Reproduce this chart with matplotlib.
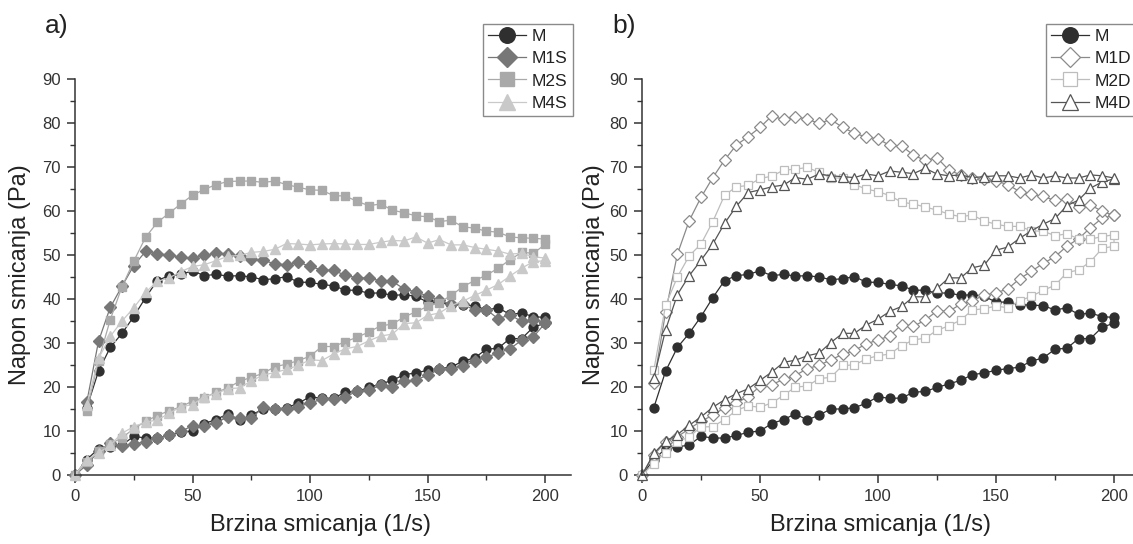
import matplotlib
matplotlib.use("Agg")
import matplotlib.pyplot as plt
from matplotlib.ticker import MultipleLocator

plt.rcParams['font.family'] = ['Liberation Sans', 'DejaVu Sans']

# Shear rate grid: ramp up 0..200, ramp down 200..5 (stored ascending)
rate_up = list(range(0, 201, 5))
rate_down = list(range(5, 201, 5))

# ---- Sample M (shown in both panels) ----
M_up = [0, 3.5, 6.0, 6.4, 6.8, 8.8, 8.4, 8.4, 9.0, 9.7, 10.0, 11.7, 12.6, 13.9, 12.5, 13.6,
        15.0, 15.0, 15.3, 16.3, 17.8, 17.4, 17.5, 18.8, 19.0, 19.9, 20.7, 21.5, 22.8, 23.2,
        23.8, 24.2, 24.5, 25.9, 26.6, 28.6, 28.8, 31.0, 31.0, 33.6, 34.5]
M_down = [15.3, 23.6, 29.0, 32.2, 36.0, 40.3, 44.2, 45.3, 45.6, 46.4, 45.3, 45.6, 45.2, 45.3,
          45.0, 44.4, 44.6, 45.1, 43.8, 43.8, 43.3, 43.0, 42.0, 42.0, 41.3, 41.4, 40.8, 41.0,
          40.6, 39.3, 39.3, 38.7, 38.6, 38.5, 37.5, 38.0, 36.5, 36.8, 36.0, 35.8]

# ---- Panel a ----
M1S_up = [0, 2.3, 5.4, 7.3, 6.5, 7.0, 7.6, 8.3, 9.1, 9.9, 11.2, 11.1, 11.9, 13.2, 12.9, 12.9,
          15.4, 15.0, 15.1, 15.5, 16.4, 17.2, 17.2, 17.8, 19.0, 19.3, 20.4, 20.0, 21.3, 21.6,
          22.7, 24.0, 24.0, 24.7, 25.8, 26.8, 27.7, 28.7, 30.6, 31.4, 34.5]
M1S_down = [16.5, 30.4, 38.1, 42.9, 47.6, 50.8, 50.3, 50.0, 49.5, 49.3, 49.9, 50.4, 50.3, 49.7,
            49.1, 48.8, 48.0, 47.8, 48.4, 47.4, 46.6, 46.5, 45.4, 44.8, 44.8, 44.1, 44.0, 42.3,
            41.6, 40.7, 39.7, 38.8, 38.9, 37.4, 37.6, 35.5, 36.4, 34.9, 35.2, 34.8]
M2S_up = [0, 3.0, 5.5, 7.0, 8.5, 10.5, 12.2, 13.5, 14.6, 15.5, 16.8, 17.6, 18.8, 19.8, 21.3, 22.2,
          23.1, 24.6, 25.2, 26.0, 27.0, 29.2, 29.2, 30.3, 31.3, 32.5, 33.9, 34.3, 35.9, 37.1,
          38.3, 39.2, 40.8, 42.8, 44.2, 45.4, 47.0, 48.9, 50.6, 50.4, 52.4]
M2S_down = [14.5, 26.0, 35.3, 42.8, 48.6, 54.0, 57.4, 59.5, 61.6, 63.6, 64.9, 66.0, 66.7, 66.8,
            66.8, 66.5, 66.8, 66.0, 65.4, 64.8, 64.7, 63.5, 63.4, 62.2, 61.2, 61.6, 60.2, 59.6,
            58.9, 58.7, 57.6, 57.9, 56.4, 56.1, 55.4, 55.2, 54.1, 53.9, 53.8, 53.6]
M4S_up = [0, 3.5, 5.0, 6.8, 9.5, 11.0, 12.0, 12.5, 14.0, 15.5, 16.0, 17.8, 18.5, 19.6, 19.8, 21.4,
          22.7, 23.3, 24.0, 24.9, 26.2, 26.0, 27.5, 28.7, 29.2, 30.5, 31.6, 32.0, 34.4, 34.6,
          36.3, 36.8, 38.5, 39.5, 40.8, 42.0, 43.3, 45.2, 47.0, 48.5, 48.7]
M4S_down = [16.0, 26.5, 31.5, 35.0, 38.0, 41.5, 44.0, 44.8, 46.2, 47.4, 47.8, 48.7, 49.7, 49.9,
            50.6, 50.8, 51.3, 52.6, 52.5, 52.3, 52.5, 52.6, 52.5, 52.4, 52.4, 52.9, 53.3, 53.2,
            54.1, 52.7, 53.5, 52.3, 52.3, 51.7, 51.3, 50.9, 50.2, 50.4, 49.6, 49.3]

# ---- Panel b ----
M1D_up = [0, 4.5, 7.6, 8.7, 10.5, 12.2, 13.6, 15.3, 16.4, 17.8, 20.2, 20.5, 21.8, 22.6, 24.2, 24.9,
          26.2, 27.4, 28.3, 29.8, 30.7, 31.6, 34.2, 33.8, 35.2, 37.3, 37.2, 38.8, 39.6, 40.9,
          41.4, 42.3, 44.6, 46.3, 48.1, 49.6, 52.0, 53.7, 56.2, 58.4, 59.0]
M1D_down = [21.0, 37.0, 50.2, 57.8, 63.1, 67.6, 71.6, 75.0, 76.9, 79.0, 81.6, 80.8, 81.4, 80.9,
            79.9, 80.8, 79.0, 77.7, 76.8, 76.4, 74.9, 74.8, 72.7, 71.5, 72.1, 69.3, 68.2, 67.5,
            67.2, 66.8, 66.0, 64.4, 63.8, 63.3, 62.4, 62.7, 61.0, 61.4, 59.9, 59.0]
M2D_up = [0, 2.6, 5.1, 7.5, 8.7, 10.9, 11.0, 12.6, 14.7, 15.7, 15.4, 16.4, 18.1, 20.0, 20.2, 21.9,
          22.2, 24.9, 25.0, 26.4, 27.1, 27.5, 29.4, 30.7, 31.1, 32.9, 33.9, 35.2, 37.5, 37.8,
          38.4, 38.0, 39.6, 40.6, 42.0, 43.1, 46.0, 46.6, 48.5, 51.5, 52.0]
M2D_down = [23.8, 38.6, 45.0, 49.8, 52.5, 57.6, 63.6, 65.5, 65.8, 67.4, 67.9, 69.3, 69.5, 69.9,
            68.8, 67.5, 67.5, 66.0, 65.0, 64.4, 63.5, 62.0, 61.6, 60.9, 60.2, 59.3, 58.7, 59.1,
            57.7, 57.0, 56.5, 56.5, 55.5, 55.4, 54.4, 54.8, 53.7, 53.6, 54.2, 54.6]
M4D_up = [0, 4.9, 7.7, 9.2, 11.3, 13.2, 15.4, 17.1, 18.5, 19.6, 21.5, 23.4, 25.6, 26.1, 27.1, 27.7,
          30.1, 32.2, 32.2, 34.1, 35.4, 37.2, 38.3, 40.5, 40.5, 42.4, 44.8, 44.8, 47.1, 47.7,
          51.1, 51.8, 53.8, 55.5, 57.0, 58.3, 61.2, 62.5, 65.2, 66.6, 67.3]
M4D_down = [22.0, 33.0, 41.0, 45.3, 48.8, 52.5, 57.2, 61.1, 64.2, 64.8, 65.5, 65.9, 67.6, 67.2,
            68.4, 68.0, 67.8, 67.6, 68.4, 68.0, 69.1, 68.8, 68.5, 69.7, 68.4, 68.0, 68.2, 67.6,
            67.8, 68.0, 68.0, 67.5, 68.2, 67.5, 68.0, 67.5, 67.5, 68.2, 68.0, 67.5]

labels_a = ["M", "M1S", "M2S", "M4S"]
labels_b = ["M", "M1D", "M2D", "M4D"]
x_tick_vals = [0, 50, 100, 150, 200]
y_tick_vals = [0, 10, 20, 30, 40, 50, 60, 70, 80, 90]
xlabel = "Brzina smicanja (1/s)"
ylabel = "Napon smicanja (Pa)"


def loop(up, down):
    xs = rate_up + rate_down[::-1]
    ys = up + down[::-1]
    assert len(xs) == len(ys)
    return xs, ys


W, H = 1133, 544
fig = plt.figure(figsize=(W / 100, H / 100), dpi=100)
axA = fig.add_axes([75 / W, 1 - 475 / H, 496 / W, 396 / H])
axB = fig.add_axes([642 / W, 1 - 475 / H, 498 / W, 396 / H])

DARK = '#2f2f2f'
series_a = [
    (M_up, M_down, dict(marker='o', ms=6.4, color=DARK, mfc=DARK, mec=DARK)),
    (M1S_up, M1S_down, dict(marker='D', ms=5.8, color='#777777', mfc='#777777', mec='#777777')),
    (M2S_up, M2S_down, dict(marker='s', ms=5.8, color='#a9a9a9', mfc='#a9a9a9', mec='#a9a9a9')),
    (M4S_up, M4S_down, dict(marker='^', ms=6.6, color='#c9c9c9', mfc='#c9c9c9', mec='#c9c9c9')),
]
series_b = [
    (M_up, M_down, dict(marker='o', ms=6.4, color=DARK, mfc=DARK, mec=DARK)),
    (M1D_up, M1D_down, dict(marker='D', ms=6.0, color='#8a8a8a', mfc='white', mec='#8a8a8a', mew=0.9)),
    (M2D_up, M2D_down, dict(marker='s', ms=5.6, color='#bdbdbd', mfc='white', mec='#bdbdbd', mew=0.9)),
    (M4D_up, M4D_down, dict(marker='^', ms=6.6, color='#555555', mfc='white', mec='#555555', mew=0.9)),
]

for ax, series, labels, tag, tagx, leg_left, ylab_x, xlab_x in [
        (axA, series_a, labels_a, 'a)', 45, 483, -0.088, 0.495),
        (axB, series_b, labels_b, 'b)', 612, 1046, -0.074, 0.478)]:
    for (up, down, style), lab in zip(series, labels):
        xs, ys = loop(up, down)
        ax.plot(xs, ys, lw=0.9, label=lab, clip_on=False, **style)
    ax.set_xlim(0, 211)
    ax.set_ylim(0, 90)
    ax.set_xticks(x_tick_vals)
    ax.set_yticks(y_tick_vals)
    ax.xaxis.set_minor_locator(MultipleLocator(25))
    ax.yaxis.set_minor_locator(MultipleLocator(5))
    for s in ['top', 'right']:
        ax.spines[s].set_visible(False)
    for s in ['left', 'bottom']:
        ax.spines[s].set_color('#333333')
        ax.spines[s].set_linewidth(1.1)
    ax.tick_params(which='major', direction='out', length=6, width=1.1, color='#333333',
                   labelsize=12, labelcolor='#333333', pad=4)
    ax.tick_params(which='minor', direction='out', length=3.5, width=1.0, color='#333333')
    ax.set_xlabel(xlabel, fontsize=17, color='#222222')
    ax.set_ylabel(ylabel, fontsize=17, color='#222222')
    ax.xaxis.set_label_coords(xlab_x, -0.098)
    ax.yaxis.set_label_coords(ylab_x, 0.505)
    fig.text(tagx / W, 1 - 26 / H, tag, fontsize=19, va='center', ha='left', color='#222222')
    leg = ax.legend(loc='upper left', bbox_to_anchor=(leg_left / W, 1 - 24 / H),
                    bbox_transform=fig.transFigure, frameon=True, fancybox=False,
                    edgecolor='#8a8a8a', framealpha=1, fontsize=12.5, markerscale=1.75,
                    handlelength=2.2, handletextpad=0.3, borderpad=0.3, labelspacing=0.4,
                    borderaxespad=0)
    leg.get_frame().set_linewidth(1.0)
    for t in leg.get_texts():
        t.set_color('#222222')

fig.savefig('out.png', dpi=100)
